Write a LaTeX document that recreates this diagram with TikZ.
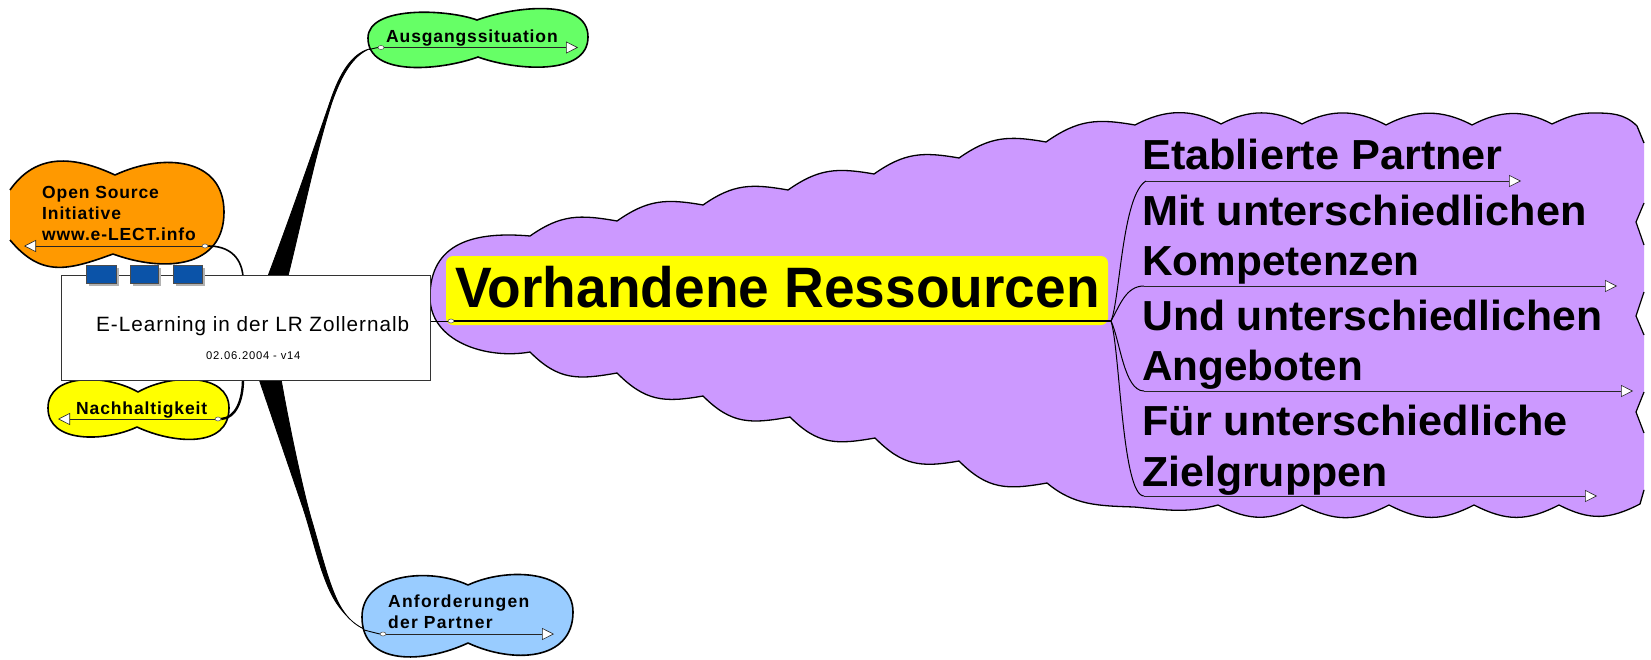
\documentclass[tikz,border=0pt]{standalone}
\usepackage{fontspec}
\setmainfont{Liberation Sans}
\usetikzlibrary{arrows.meta,shapes.geometric}
\definecolor{cloudpurple}{HTML}{CC99FF}
\definecolor{cloudorange}{HTML}{FF9900}
\definecolor{cloudgreen}{HTML}{66FF66}
\definecolor{cloudblue}{HTML}{99CCFF}
\definecolor{tabblue}{HTML}{0B53A8}
\definecolor{labyellow}{RGB}{255,255,0}
\tikzset{
 topb/.style={out=35,in=170,looseness=1.1},
 flatb/.style={out=28,in=152,looseness=1},
 botb/.style={out=190,in=-45,looseness=1.15},
 lowb/.style={out=207,in=-27,looseness=1.1},
 cloudline/.style={line width=1.6pt,draw=black,line join=round},
 lab/.style={inner sep=0pt,anchor=base west,font=\bfseries\fontsize{17.5}{18}\selectfont\addfontfeature{LetterSpace=5}},
 labwide/.style={inner sep=0pt,anchor=base west,font=\bfseries\fontsize{17.5}{18}\selectfont\addfontfeature{LetterSpace=7}},
 bigtxt/.style={inner sep=0pt,anchor=base west,font=\bfseries\fontsize{42}{42}\selectfont},
 stem/.style={draw=black,line width=1pt},
 arrowline/.style={draw=black!85,line width=1pt,-{Triangle[fill=white,length=12pt,width=12pt,line width=.6pt]}},
 dot/.style={ellipse,draw=black!70,fill=white,line width=.5pt,minimum width=6pt,minimum height=4pt,inner sep=0pt},
 tab/.style={draw=black!70,fill=tabblue,line width=.7pt},
 tabshadow/.style={fill=black!30,draw=none},
}
\newcommand{\purpletop}{(430,297) to[out=90,in=175,looseness=1.2] (530,236)
 to[topb] (617,221) to[topb] (703,205) to[topb] (788,190) to[topb] (874,174)
 to[topb] (959,158) to[topb] (1046,142) to[topb] (1135,125)
 to[flatb] (1221,124) to[flatb] (1302,124) to[flatb] (1386,125) to[flatb] (1472,125) to[flatb] (1552,124)
 to[out=25,in=180] (1593,113) to[out=0,in=135] (1637,126) -- (1644,143)}
\newcommand{\purplebottom}{-- (1644,490) -- (1640,504) to[lowb] (1559,505) to[lowb] (1474,505) to[lowb] (1389,505)
 to[lowb] (1302,505) to[lowb] (1218,505) to[out=195,in=-5,looseness=1] (1134,507) to[out=178,in=-40,looseness=1] (1047,483)
 to[botb] (959,461) to[botb] (875,438) to[botb] (790,417) to[botb] (703,396)
 to[botb] (617,373) to[botb] (530,352) to[out=190,in=-90,looseness=1] (430,297)}
\newcommand{\orangeedge}{(10,190) to[out=55,in=155,looseness=1.1] (115,175)
 to[out=25,in=90,looseness=1.2] (224,212) to[out=-90,in=-20,looseness=1.2] (113,254)
 to[out=200,in=-50,looseness=1.2] (10,240)}
\begin{document}
\begin{tikzpicture}[x=1pt,y=-1pt]
\useasboundingbox (0,0) rectangle (1651,659);
% tapered branches
\filldraw[black,line width=.8pt,line join=round] (268,276) .. controls (288,223) and (310,160) .. (330,102) .. controls (340,72) and (352,54) .. (369,49)
  .. controls (353,56) and (342,74) .. (332,102) .. controls (315,155) and (302,220) .. (288,276) -- cycle;
\filldraw[black,line width=.8pt,line join=round] (259,379) .. controls (273,420) and (290,470) .. (302,505) .. controls (314,540) and (322,585) .. (340,608) .. controls (348,618) and (355,625) .. (364,629)
  .. controls (356,625) and (349,620) .. (342,609) .. controls (330,590) and (322,555) .. (311,518) .. controls (303,490) and (290,430) .. (281,379) -- cycle;
% purple cloud
\fill[cloudpurple] \purpletop -- (1644,203) -- (1636,222) -- (1644,245) -- (1644,292) -- (1636,316) -- (1644,335) -- (1644,392) -- (1636,412) -- (1644,433) \purplebottom -- cycle;
\draw[line width=1.3pt,line join=miter] \purpletop;
\draw[line width=1.3pt,line join=miter] (1644,489.9) \purplebottom;
\draw[line width=1.2pt] (1644,203) -- (1636,222) -- (1644,245);
\draw[line width=1.2pt] (1644,292) -- (1636,316) -- (1644,335);
\draw[line width=1.2pt] (1644,392) -- (1636,412) -- (1644,433);
% green cloud
\filldraw[fill=cloudgreen,cloudline] (477,20) to[out=20,in=90,looseness=.9] (588,37) to[out=-90,in=-20,looseness=.9] (478,57) to[out=200,in=-90,looseness=.9] (368,38) to[out=90,in=160,looseness=.75] (477,20) -- cycle;
% orange cloud
\fill[cloudorange] \orangeedge -- cycle;
\draw[cloudline] \orangeedge;
% yellow cloud
\filldraw[fill=labyellow,cloudline] (138,392) to[out=30,in=90] (229,408) to[out=-90,in=-25,looseness=1.1] (137,427) to[out=205,in=-90] (48,408) to[out=90,in=150] (138,392) -- cycle;
% blue cloud
\filldraw[fill=cloudblue,cloudline] (468,585) to[out=25,in=90] (573,612) to[out=-90,in=-25,looseness=1.15] (468,643) to[out=205,in=-90,looseness=1.15] (362,617) to[out=90,in=155] (468,585) -- cycle;
% yellow label
\fill[labyellow,rounded corners=7pt] (446,256) rectangle (1108,325);
% connector stubs to the small clouds
\coordinate (boxT) at (243,276);
\coordinate (boxB) at (243,379);
\node[dot] (dotO) at (205,246) {};
\node[dot] (dotY) at (218,419) {};
\node[dot] (dotG) at (381,47.5) {};
\node[dot] (dotB) at (383,634) {};
\node[dot] (dotM) at (451,321) {};
\coordinate (hub) at (1111,321);
\draw[line width=1.6pt] (dotO.east) .. controls (228,246) and (241,256) .. (boxT);
\draw[line width=2.4pt] (dotY.east) .. controls (236,418) and (243,400) .. (boxB);
\draw[line width=.9pt] (369,49.5) -- (dotG.west);
\draw[line width=.9pt] (364,630) -- (dotB.west);
% title box
\node[draw=black!80,fill=white,line width=1pt,minimum width=369pt,minimum height=105pt,inner sep=0pt] (title) at (245.5,327.5) {};
\node[inner sep=0pt,anchor=base west,font=\fontsize{20.7}{21}\selectfont\addfontfeature{LetterSpace=4.7}] (titletxt) at (96,331) {E-Learning in der LR Zollernalb};
\node[inner sep=0pt,anchor=base west,font=\fontsize{11.2}{12}\selectfont\addfontfeature{LetterSpace=7}] (datetxt) at (206,359) {02.06.2004 - v14};
% tabs
\fill[tabshadow] (89,268) rectangle (119,286);
\fill[tabshadow] (133,268) rectangle (161,286);
\fill[tabshadow] (176,268) rectangle (205,286);
\draw[tab] (86,265) rectangle (116,283);
\draw[tab] (130,265) rectangle (158,283);
\draw[tab] (173,265) rectangle (202,283);
% labels
\node[lab] (ausg) at (386,42) {Ausgangssituation};
\node[lab] (open1) at (42,198) {Open Source};
\node[lab] (open2) at (42,219) {Initiative};
\node[lab] (open3) at (42,240) {www.e-LECT.info};
\node[lab] (nach) at (76,414) {Nachhaltigkeit};
\node[labwide] (anf1) at (388,607) {Anforderungen};
\node[labwide] (anf2) at (388,628) {der Partner};
\node[inner sep=0pt,anchor=base west,font=\bfseries\fontsize{57}{58}\selectfont\addfontfeature{FakeStretch=.966}] (vor) at (455,307) {Vorhandene Ressourcen};
\node[bigtxt] (t1) at (1142,169) {\addfontfeature{FakeStretch=1.03}Etablierte Partner};
\node[bigtxt] (t2) at (1142,225) {\addfontfeature{FakeStretch=1.03}Mit unterschiedlichen};
\node[bigtxt] (t3) at (1142,275) {\addfontfeature{FakeStretch=1.007}Kompetenzen};
\node[bigtxt] (t4) at (1142,330) {\addfontfeature{FakeStretch=1.016}Und unterschiedlichen};
\node[bigtxt] (t5) at (1142,380) {\addfontfeature{FakeStretch=1.006}Angeboten};
\node[bigtxt] (t6) at (1142,435) {\addfontfeature{FakeStretch=1.03}Für unterschiedliche};
\node[bigtxt] (t7) at (1142,486) {\addfontfeature{FakeStretch=1.02}Zielgruppen};
% arrows
\coordinate (aO) at (24,246);
\coordinate (aY) at (58,419);
\coordinate (aG) at (578,47.5);
\coordinate (aB) at (554,634);
\draw[arrowline] (dotO.west) -- (aO);
\draw[arrowline] (dotY.west) -- (aY);
\draw[arrowline] (dotG.east) -- (aG);
\draw[arrowline] (dotB.east) -- (aB);
\draw[line width=1pt] (title.east |- dotM) -- (dotM.west);
\draw[line width=1.6pt] (dotM.east) -- (hub);
\coordinate (s1) at (1146,181);
\coordinate (s2) at (1144,286);
\coordinate (s3) at (1144,391);
\coordinate (s4) at (1144,496);
\coordinate (e1) at (1521,181);
\coordinate (e2) at (1617,286);
\coordinate (e3) at (1633,391);
\coordinate (e4) at (1597,496);
\draw[stem] (hub) .. controls (1120,300) and (1122,195) .. (s1);
\draw[stem] (hub) .. controls (1120,305) and (1126,286) .. (s2);
\draw[stem] (hub) .. controls (1120,340) and (1124,391) .. (s3);
\draw[stem] (hub) .. controls (1120,350) and (1122,496) .. (s4);
\draw[arrowline] (s1) -- (e1);
\draw[arrowline] (s2) -- (e2);
\draw[arrowline] (s3) -- (e3);
\draw[arrowline] (s4) -- (e4);
\end{tikzpicture}
\end{document}
